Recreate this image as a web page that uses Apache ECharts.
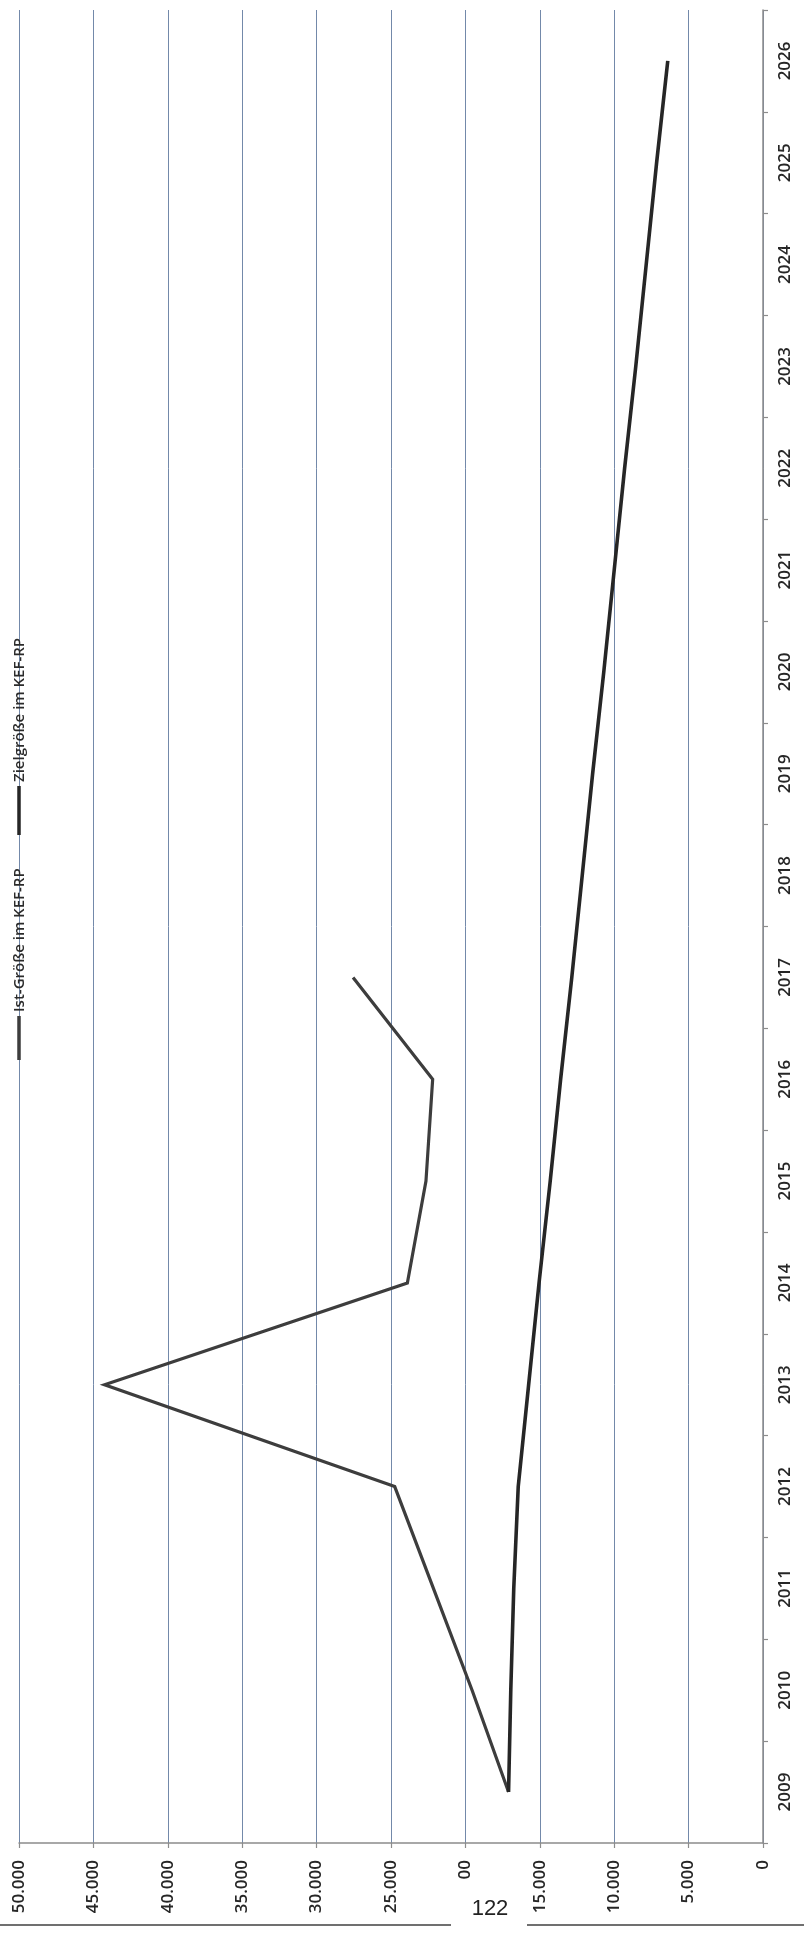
<!DOCTYPE html>
<html>
<head>
<meta charset="utf-8">
<script src="https://cdn.jsdelivr.net/npm/echarts@6/dist/echarts.min.js"></script>
<style>
html,body{margin:0;padding:0;background:#fff;}
#chart{width:804px;height:1933px;}
</style>
</head>
<body>
<div id="chart"></div>
<script>
// ---- data ----
const years = ['2009','2010','2011','2012','2013','2014','2015','2016','2017',
               '2018','2019','2020','2021','2022','2023','2024','2025','2026'];
const istValues = [17100, 19550, 22150, 24750, 44250, 23900, 22650, 22200, 27550,
                   null, null, null, null, null, null, null, null, null];
const zielValues = [17100, 16950, 16750, 16450, 15750, 15050, 14300, 13600, 12850,
                    12150, 11450, 10700, 10000, 9300, 8550, 7850, 7150, 6400];
const seriesNames = ['Ist-Größe im KEF-RP', 'Zielgröße im KEF-RP'];
const valueMin = 0;
const valueMax = 50000;
const valueStep = 5000;
const pageNumber = '122';

const FONT = '"Open Sans", "Noto Sans", sans-serif';
function fmt(v) {
  return String(v).replace(/\B(?=(\d{3})+(?!\d))/g, '.');
}

const chart = echarts.init(document.getElementById('chart'), null, {renderer: 'canvas'});
chart.setOption({
  animation: false,
  backgroundColor: '#ffffff',
  textStyle: {fontFamily: FONT},
  grid: {left: 19, right: 41, top: 10, bottom: 90, containLabel: false, outerBoundsMode: 'none'},
  xAxis: {
    type: 'value',
    position: 'bottom',
    inverse: true,
    min: valueMin,
    max: valueMax,
    interval: valueStep,
    axisLine: {show: true, lineStyle: {color: '#8c8c8c', width: 1.5}},
    axisTick: {show: true, length: 5, lineStyle: {color: '#8c8c8c', width: 1.2}},
    splitLine: {show: true, lineStyle: {color: '#7389aa', width: 1}},
    axisLabel: {
      rotate: 90,
      margin: 17,
      fontSize: 17,
      fontWeight: 600,
      color: '#262626',
      fontFamily: FONT,
      formatter: fmt
    }
  },
  yAxis: {
    type: 'category',
    position: 'right',
    data: years,
    boundaryGap: true,
    axisLine: {show: true, lineStyle: {color: '#8c8c8c', width: 1.5}},
    axisTick: {show: true, length: 5, alignWithLabel: false, lineStyle: {color: '#8c8c8c', width: 1.2}},
    splitLine: {show: false},
    axisLabel: {
      rotate: 90,
      margin: 14,
      fontSize: 17,
      fontWeight: 600,
      color: '#262626',
      fontFamily: FONT,
      interval: 0
    }
  },
  series: [
    {
      name: seriesNames[0],
      type: 'line',
      data: istValues,
      symbol: 'none',
      connectNulls: false,
      lineStyle: {color: '#3d3d3d', width: 3.2, join: 'miter', miterLimit: 20, cap: 'butt'},
      itemStyle: {color: '#3d3d3d'},
      z: 3
    },
    {
      name: seriesNames[1],
      type: 'line',
      data: zielValues,
      symbol: 'none',
      lineStyle: {color: '#262626', width: 3.6, join: 'miter', miterLimit: 20, cap: 'butt'},
      itemStyle: {color: '#262626'},
      z: 3
    }
  ],
  graphic: {
    elements: [
      // legend (rotated, reading bottom to top)
      {type: 'line', z: 100, shape: {x1: 19, y1: 1060, x2: 19, y2: 1016},
       style: {stroke: '#3d3d3d', lineWidth: 3.5}},
      {type: 'text', z: 100, x: 20, y: 1012, rotation: Math.PI / 2,
       style: {text: seriesNames[0], fontSize: 15, fontWeight: 600, fontFamily: FONT, fill: '#2b2b2b',
               textAlign: 'left', textVerticalAlign: 'middle'}},
      {type: 'line', z: 100, shape: {x1: 19, y1: 835, x2: 19, y2: 786},
       style: {stroke: '#262626', lineWidth: 3.5}},
      {type: 'text', z: 100, x: 20, y: 782, rotation: Math.PI / 2,
       style: {text: seriesNames[1], fontSize: 15, fontWeight: 600, fontFamily: FONT, fill: '#2b2b2b',
               textAlign: 'left', textVerticalAlign: 'middle'}},
      // page edge lines of the scan
      {type: 'line', z: 90, shape: {x1: 0, y1: 1925, x2: 451, y2: 1925},
       style: {stroke: '#707070', lineWidth: 2}},
      {type: 'line', z: 90, shape: {x1: 527, y1: 1925, x2: 804, y2: 1925},
       style: {stroke: '#707070', lineWidth: 2}},
      // page number patch
      {type: 'rect', z: 95, shape: {x: 452, y: 1879, width: 75, height: 54},
       style: {fill: '#ffffff'}},
      {type: 'text', z: 100, x: 490, y: 1909,
       style: {text: pageNumber, fontSize: 22, fontFamily: '"Liberation Sans Narrow", "Liberation Sans", sans-serif',
               fill: '#222222', textAlign: 'center', textVerticalAlign: 'middle'}}
    ]
  }
});
</script>
</body>
</html>
